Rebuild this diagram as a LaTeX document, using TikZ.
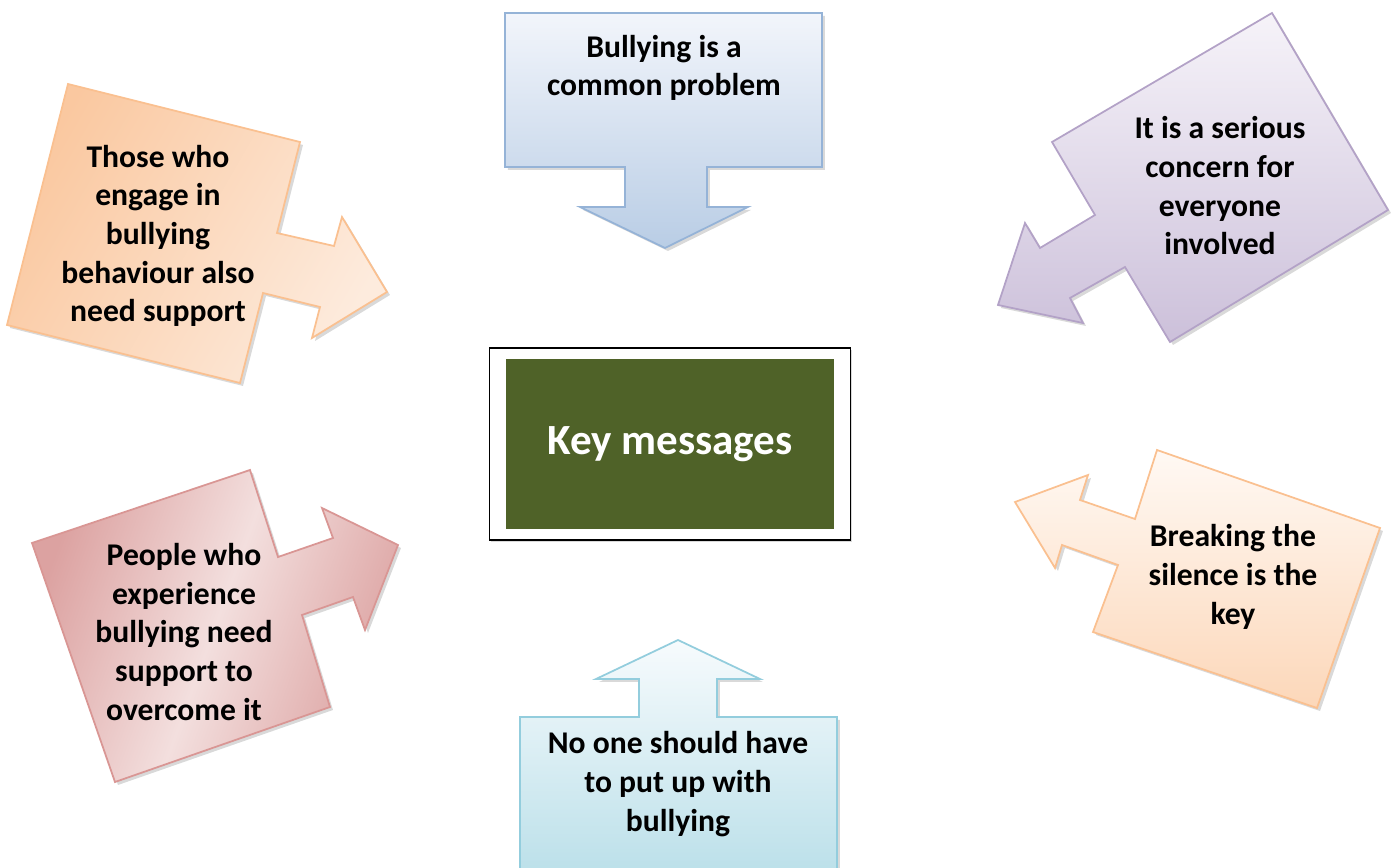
\documentclass[tikz,border=0pt]{standalone}
\usepackage{fontspec}
\setmainfont{Carlito}
\usetikzlibrary{shadows}

\definecolor{keygreen}{HTML}{4F6228}
\definecolor{blueline}{HTML}{95B3D7}
\definecolor{bluetop}{HTML}{F2F5FB}
\definecolor{bluebot}{HTML}{B9CDE5}
\definecolor{lilacline}{HTML}{B3A2C7}
\definecolor{lilactop}{HTML}{F6F3F9}
\definecolor{lilacbot}{HTML}{CCC0DA}
\definecolor{peachline}{HTML}{FAC090}
\definecolor{peachdark}{HTML}{FAC8A0}
\definecolor{peachlight}{HTML}{FDEBDD}
\definecolor{peachwhite}{HTML}{FFF9F4}
\definecolor{peachbot}{HTML}{FCD7B9}
\definecolor{roseline}{HTML}{D99694}
\definecolor{rosedark}{HTML}{DCA2A1}
\definecolor{roselight}{HTML}{F3DFDE}
\definecolor{cyanline}{HTML}{93CDDD}
\definecolor{cyantop}{HTML}{F7FBFD}
\definecolor{cyanbot}{HTML}{B7DEE8}

\begin{document}
\begin{tikzpicture}[x=0.02cm,y=-0.02cm]
  \tikzstyle{callout}=[line width=1pt,drop shadow={shadow xshift=1.7pt,shadow yshift=-1.7pt,opacity=0.3}]
  \tikzstyle{msg}=[font=\fontsize{18}{22}\selectfont\bfseries,align=center]

  \clip (0,0) rectangle (1397,868);

  % top: down arrow
  \draw[callout,draw=blueline,top color=bluetop,bottom color=bluebot]
    (505,13) -- (822,13) -- (822,167) -- (707,167) -- (707,207) -- (748,207)
    -- (665,248) -- (580,207) -- (625,207) -- (625,167) -- (505,167) -- cycle;

  % top right: arrow to lower left
  \draw[callout,draw=lilacline,top color=lilactop,bottom color=lilacbot]
    (1272,13) -- (1388,210) -- (1170,342) -- (1125,267) -- (1070,298) -- (1083,323)
    -- (998,305) -- (1025,223) -- (1040,248) -- (1095,215) -- (1052,142) -- cycle;

  % top left: arrow to the right
  \draw[callout,draw=peachline,left color=peachdark,right color=peachlight,shading angle=60]
    (68,84) -- (300,142) -- (277,233) -- (334,246) -- (342,217) -- (387,292)
    -- (312,338) -- (320,307) -- (263,293) -- (240,383) -- (7,325) -- cycle;

  % bottom left: arrow to upper right
  \draw[callout,draw=roseline,left color=rosedark,right color=rosedark,middle color=roselight,shading angle=70]
    (32,543) -- (250,470) -- (278,557) -- (333,538) -- (322,508) -- (398,545)
    -- (365,630) -- (353,597) -- (302,615) -- (330,707) -- (115,782) -- cycle;

  % bottom right: arrow to upper left
  \draw[callout,draw=peachline,top color=peachwhite,bottom color=peachbot]
    (1157,450) -- (1380,528) -- (1317,708) -- (1093,632) -- (1118,565) -- (1062,545)
    -- (1055,568) -- (1015,502) -- (1088,475) -- (1080,500) -- (1135,519) -- cycle;

  % bottom: up arrow
  \draw[callout,draw=cyanline,top color=cyantop,bottom color=cyanbot]
    (678,640) -- (760,679) -- (717,679) -- (717,717) -- (837,717) -- (837,890)
    -- (520,890) -- (520,717) -- (639,717) -- (639,679) -- (596,679) -- cycle;

  % centre
  \node[draw,line width=1pt,fill=white,minimum width=7.22cm,minimum height=3.84cm,
        drop shadow={shadow xshift=1pt,shadow yshift=-1pt,opacity=0.3}](frame) at (670,444){};
  \node[fill=keygreen,minimum width=6.56cm,minimum height=3.42cm,text=white,
        font=\fontsize{24.5}{29}\selectfont\bfseries](key) at (670,444){Key messages};

  \node[msg](m1) at (664,68){Bullying is a\\common problem};
  \node[msg](m2) at (1220,186){It is a serious\\concern for\\everyone\\involved};
  \node[msg](m3) at (158,236){Those who\\engage in\\bullying\\behaviour also\\need support};
  \node[msg](m4) at (184,632){People who\\experience\\bullying need\\support to\\overcome it};
  \node[msg](m5) at (1233,577){Breaking the\\silence is the\\key};
  \node[msg](m6) at (678,784){No one should have\\to put up with\\bullying};
\end{tikzpicture}
\end{document}
